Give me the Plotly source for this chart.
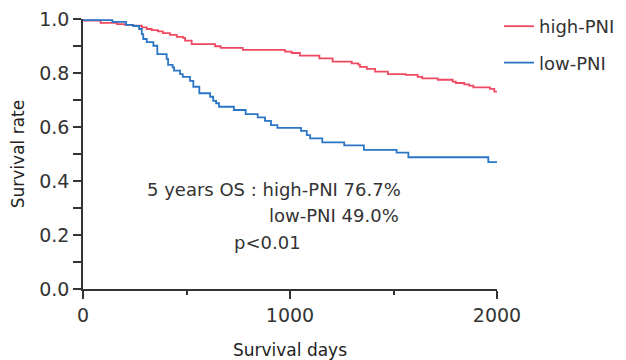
import plotly.graph_objects as go

# Kaplan-Meier step data (days, survival)
high_days = [0, 85, 164, 203, 242, 284, 308, 332, 362, 386, 420, 453, 483, 493, 525, 638, 665, 772,
             976, 1008, 1048, 1142, 1206, 1298, 1330, 1338, 1371, 1411, 1473, 1559, 1617, 1639, 1714,
             1786, 1801, 1842, 1865, 1886, 1966, 1987, 2000]
high_surv = [0.994, 0.986, 0.981, 0.978, 0.975, 0.969, 0.963, 0.959, 0.954, 0.948, 0.941, 0.934, 0.930,
             0.920, 0.907, 0.899, 0.893, 0.886, 0.879, 0.874, 0.864, 0.854, 0.842, 0.836, 0.831, 0.823,
             0.815, 0.805, 0.796, 0.793, 0.786, 0.780, 0.775, 0.768, 0.763, 0.758, 0.753, 0.747, 0.741,
             0.731, 0.731]

low_days = [0, 142, 208, 243, 271, 284, 291, 308, 340, 359, 404, 411, 433, 440, 469, 482, 517, 533, 562,
            614, 629, 643, 657, 729, 786, 844, 879, 908, 939, 1053, 1081, 1097, 1156, 1262, 1357, 1515,
            1572, 1958, 2000]
low_surv = [0.996, 0.989, 0.978, 0.974, 0.963, 0.944, 0.926, 0.914, 0.901, 0.870, 0.852, 0.830, 0.821,
            0.809, 0.796, 0.786, 0.771, 0.749, 0.725, 0.712, 0.697, 0.688, 0.675, 0.663, 0.648, 0.636,
            0.623, 0.607, 0.597, 0.586, 0.570, 0.558, 0.543, 0.532, 0.515, 0.505, 0.488, 0.470, 0.470]

series_names = ["high-PNI", "low-PNI"]
y_ticks = [0.0, 0.2, 0.4, 0.6, 0.8, 1.0]
x_ticks = [0, 1000, 2000]
annot_lines = ["5 years OS : high-PNI 76.7%", "low-PNI 49.0%", "p<0.01"]

FONT = "DejaVu Sans"
TXT = "#333333"

fig = go.Figure()
fig.add_trace(go.Scatter(x=high_days, y=high_surv, mode="lines", line_shape="hv",
                         name=series_names[0], legendgroup="a",
                         line=dict(color="#ef4a62", width=1.8)))
fig.add_trace(go.Scatter(x=low_days, y=low_surv, mode="lines", line_shape="hv",
                         name=series_names[1], legendgroup="b",
                         line=dict(color="#2a76c6", width=1.8)))

axis_common = dict(showline=True, linecolor="#333333", linewidth=1.5, ticks="outside",
                   ticklen=8, tickwidth=1.5, tickcolor="#333333", showgrid=False, zeroline=False,
                   automargin=False, ticklabeloverflow="allow",
                   tickfont=dict(family=FONT, size=19, color=TXT))

fig.update_xaxes(range=[0, 2000], tickvals=x_ticks, ticktext=[str(v) for v in x_ticks],
                 minor=dict(ticks="outside", ticklen=4, tickwidth=1.5, tickcolor="#333333", dtick=500, tick0=0),
                 title=dict(text="Survival days", font=dict(family=FONT, size=17, color="#222222"), standoff=22),
                 **axis_common)
fig.update_yaxes(range=[0, 1.0], tickvals=y_ticks, ticktext=[f"{v:.1f}" for v in y_ticks],
                 minor=dict(ticks="outside", ticklen=8, tickwidth=1.5, tickcolor="#333333", dtick=0.1, tick0=0),
                 title=dict(text="Survival rate", font=dict(family=FONT, size=17, color="#222222"), standoff=12),
                 **axis_common)

ann_x = [300, 890, 722]
ann_y = [0.367, 0.274, 0.174]
for t, ax_, ay_ in zip(annot_lines, ann_x, ann_y):
    fig.add_annotation(x=ax_, y=ay_, xref="x", yref="y", text=t, showarrow=False,
                       xanchor="left", yanchor="middle",
                       font=dict(family=FONT, size=18, color=TXT))

# page body has an 8px margin, so the figure is sized and offset to compensate
fig.update_layout(
    width=618, height=352,
    margin=dict(l=75, r=129, t=11, b=71),
    plot_bgcolor="white", paper_bgcolor="white",
    legend=dict(xref="container", yref="container", x=491 / 618, y=1.0,
                xanchor="left", yanchor="top", tracegroupgap=10,
                font=dict(family=FONT, size=18, color=TXT), bgcolor="rgba(0,0,0,0)",
                itemwidth=30),
)

fig.write_html("out.html")
